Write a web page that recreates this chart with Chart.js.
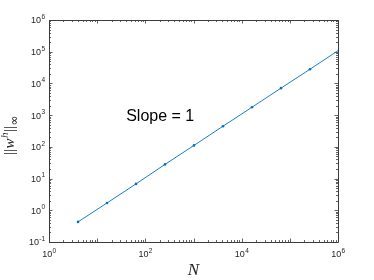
<!DOCTYPE html>
<html>
<head>
<meta charset="utf-8">
<script src="https://cdn.jsdelivr.net/npm/chart.js@4.4.1/dist/chart.umd.min.js"></script>
<style>
  html, body { margin: 0; padding: 0; background: #fff; }
  #wrap { width: 374px; height: 280px; position: relative; }
</style>
</head>
<body>
<div id="wrap"><canvas id="c" width="374" height="280"></canvas></div>
<script>
// ---- data ----
const N = [4, 16, 64, 256, 1024, 4096, 16384, 65536, 262144, 1048576];
const errInf = [0.43, 1.7, 6.8, 28, 111, 447, 1780, 7100, 28000, 113000];
const xTickValues = [1, 1e2, 1e4, 1e6];
const yTickValues = [1e-1, 1, 1e1, 1e2, 1e3, 1e4, 1e5, 1e6];
const slopeText = 'Slope = 1';
const slopeAt = { x: 40, y: 900 };
const xTitle = 'N';

const AXIS = '#262626';
const BLUE = '#0072BD';
const BASE_FONT = '9px "Liberation Sans", Arial, sans-serif';
const EXP_FONT = '6.5px "Liberation Sans", Arial, sans-serif';

function exponentOf(v) { return String(Math.round(Math.log10(v))); }

function drawPow(ctx, e, x, y, align) {
  // x,y: anchor; align 'right' -> whole label ends at x; 'center' -> '10' centred near x
  ctx.font = BASE_FONT;
  const wb = ctx.measureText('10').width;
  ctx.font = EXP_FONT;
  const we = ctx.measureText(e).width;
  let x0;
  if (align === 'right') x0 = x - wb - we - 0.3;
  else x0 = x - (wb + we) / 2;
  ctx.textAlign = 'left';
  ctx.textBaseline = 'middle';
  ctx.font = BASE_FONT;
  ctx.fillText('10', x0, y);
  ctx.font = EXP_FONT;
  ctx.fillText(e, x0 + wb + 0.3, y - 4);
}

const boxAndTicks = {
  id: 'boxAndTicks',
  afterDatasetsDraw(chart) {
    const { ctx, chartArea: a, scales } = chart;
    const xs = scales.x, ys = scales.y;
    ctx.save();
    ctx.strokeStyle = '#3c3c3c';
    ctx.lineWidth = 1;
    ctx.beginPath();
    ctx.rect(Math.round(a.left) + 0.5, Math.round(a.top) + 0.5, Math.round(a.right - a.left), Math.round(a.bottom - a.top));
    ctx.stroke();
    ctx.lineWidth = 0.8;
    ctx.beginPath();
    for (let d = 0; d <= 6; d++) {
      for (let m = 1; m <= 9; m++) {
        const v = m * Math.pow(10, d);
        if (v > 1e6) break;
        const px = Math.round(xs.getPixelForValue(v)) + 0.5;
        const L = m === 1 ? 3.5 : 2;
        ctx.moveTo(px, a.bottom); ctx.lineTo(px, a.bottom - L);
        ctx.moveTo(px, a.top); ctx.lineTo(px, a.top + L);
      }
    }
    for (let d = -1; d <= 6; d++) {
      for (let m = 1; m <= 9; m++) {
        const v = m * Math.pow(10, d);
        if (v > 1e6 + 1) break;
        const py = Math.round(ys.getPixelForValue(v)) + 0.5;
        const L = m === 1 ? 3.5 : 2;
        ctx.moveTo(a.left, py); ctx.lineTo(a.left + L, py);
        ctx.moveTo(a.right, py); ctx.lineTo(a.right - L, py);
      }
    }
    ctx.stroke();

    // tick labels from the scales' own ticks
    ctx.fillStyle = AXIS;
    xs.ticks.forEach(t => {
      drawPow(ctx, exponentOf(t.value), xs.getPixelForValue(t.value), a.bottom + 13, 'center');
    });
    ys.ticks.forEach(t => {
      drawPow(ctx, exponentOf(t.value), a.left - 4, ys.getPixelForValue(t.value) + 1, 'right');
    });

    // Slope annotation
    ctx.fillStyle = '#000';
    ctx.font = '16px "Liberation Sans", Arial, sans-serif';
    ctx.textAlign = 'left';
    ctx.textBaseline = 'middle';
    ctx.fillText(slopeText, xs.getPixelForValue(slopeAt.x), ys.getPixelForValue(slopeAt.y));

    // x title
    ctx.fillStyle = AXIS;
    ctx.font = 'italic 17px "Liberation Serif", "DejaVu Serif", serif';
    ctx.textAlign = 'center';
    ctx.textBaseline = 'alphabetic';
    ctx.fillText(xTitle, (a.left + a.right) / 2, 275);

    // y title: ||w^h||_inf rotated
    ctx.translate(14, (a.top + a.bottom) / 2 + 4);
    ctx.rotate(-Math.PI / 2);
    const fMain = '15px "Liberation Serif", "DejaVu Serif", serif';
    const fIt = 'italic 15px "Liberation Serif", "DejaVu Serif", serif';
    const fSmall = 'italic 11px "Liberation Serif", "DejaVu Serif", serif';
    const fSub = '12px "DejaVu Sans", sans-serif';
    const parts = [
      { t: '||', f: fMain, dy: 0 },
      { t: 'w', f: fIt, dy: 0 },
      { t: 'h', f: fSmall, dy: -6 },
      { t: '||', f: fMain, dy: 0 },
      { t: '\u221E', f: fSub, dy: 4 }
    ];
    let total = 0;
    parts.forEach(p => { ctx.font = p.f; p.w = ctx.measureText(p.t).width; total += p.w + 0.5; });
    let cx = -total / 2;
    ctx.textAlign = 'left';
    parts.forEach(p => { ctx.font = p.f; ctx.fillText(p.t, cx, p.dy); cx += p.w + 0.5; });
    ctx.restore();
  }
};

new Chart(document.getElementById('c'), {
  type: 'scatter',
  data: {
    datasets: [{
      data: N.map((n, i) => ({ x: n, y: errInf[i] })),
      showLine: true,
      borderColor: BLUE,
      backgroundColor: BLUE,
      borderWidth: 0.9,
      pointRadius: 1.3,
      pointHoverRadius: 1.3,
      pointBorderWidth: 0,
      tension: 0
    }]
  },
  options: {
    responsive: false,
    animation: false,
    events: [],
    layout: { padding: { left: 0, right: 36, top: 20, bottom: 0 } },
    plugins: { legend: { display: false }, tooltip: { enabled: false } },
    scales: {
      x: {
        type: 'logarithmic',
        min: 1, max: 1e6,
        grid: { display: false },
        border: { display: false },
        afterBuildTicks: s => { s.ticks = xTickValues.map(v => ({ value: v })); },
        afterFit: s => { s.height = 38; },
        ticks: { display: false, autoSkip: false }
      },
      y: {
        type: 'logarithmic',
        min: 1e-1, max: 1e6,
        grid: { display: false },
        border: { display: false },
        afterBuildTicks: s => { s.ticks = yTickValues.map(v => ({ value: v })); },
        afterFit: s => { s.width = 49; },
        ticks: { display: false, autoSkip: false }
      }
    }
  },
  plugins: [boxAndTicks]
});
</script>
</body>
</html>
